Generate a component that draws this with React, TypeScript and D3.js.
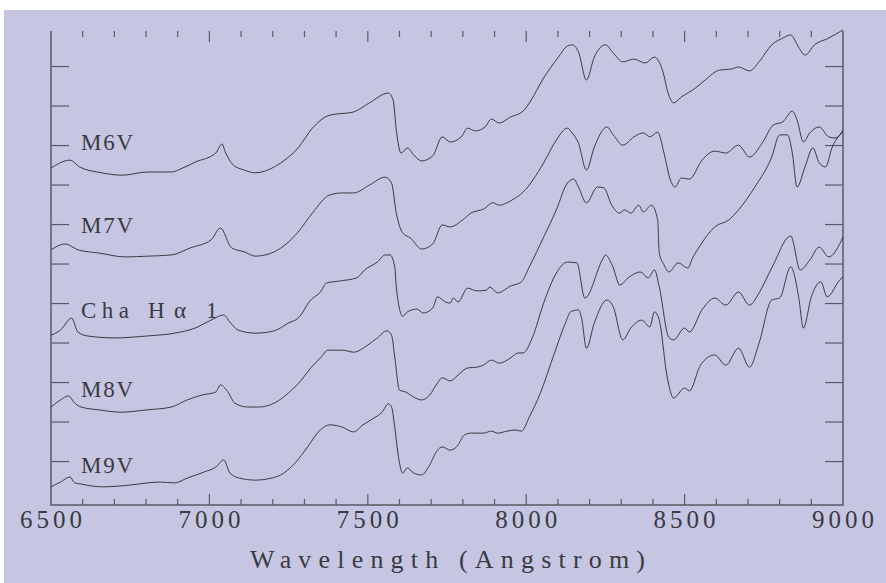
import React, { useEffect, useRef } from 'react';
import * as d3 from 'd3';

// wavelength (Angstrom), offset flux
const M6V = [
  [6500, 8.43], [6560, 8.63], [6590, 8.46], [6660, 8.31], [6725, 8.25], [6805, 8.33],
  [6880, 8.33], [6910, 8.41], [6955, 8.58], [7020, 8.81], [7040, 9.04], [7050, 8.84],
  [7075, 8.51], [7110, 8.38], [7145, 8.31], [7205, 8.46], [7225, 8.56], [7280, 8.94],
  [7325, 9.44], [7380, 9.77], [7455, 9.85], [7505, 10.08], [7565, 10.33], [7580, 10.15],
  [7590, 9.39], [7605, 8.81], [7625, 8.94], [7645, 8.76], [7670, 8.61], [7705, 8.74],
  [7735, 9.22], [7760, 9.09], [7795, 9.22], [7815, 9.44], [7840, 9.37], [7870, 9.47],
  [7890, 9.67], [7915, 9.57], [7950, 9.72], [7990, 9.87], [8010, 10.08], [8055, 10.71],
  [8100, 11.22], [8130, 11.52], [8145, 11.55], [8165, 11.37], [8190, 10.66], [8215, 11.24],
  [8250, 11.55], [8275, 11.34], [8305, 11.12], [8340, 11.19], [8375, 11.09], [8405, 11.24],
  [8430, 10.91], [8450, 10.28], [8465, 10.08], [8490, 10.23], [8535, 10.46], [8565, 10.66],
  [8610, 10.91], [8650, 10.94], [8670, 10.99], [8705, 10.89], [8735, 11.12], [8775, 11.55],
  [8810, 11.72], [8835, 11.8], [8860, 11.49], [8880, 11.29], [8910, 11.55], [8955, 11.72],
  [9000, 11.93],
];

const M7V = [
  [6500, 6.36], [6545, 6.51], [6585, 6.36], [6650, 6.28], [6735, 6.18], [6805, 6.2],
  [6880, 6.23], [6940, 6.41], [7005, 6.61], [7035, 6.91], [7070, 6.41], [7110, 6.31],
  [7145, 6.2], [7205, 6.31], [7280, 6.81], [7325, 7.29], [7380, 7.75], [7420, 7.8],
  [7455, 7.8], [7505, 8.0], [7555, 8.2], [7575, 8.05], [7590, 7.29], [7610, 6.79],
  [7635, 6.66], [7670, 6.38], [7705, 6.51], [7735, 6.99], [7760, 6.94], [7800, 7.12],
  [7825, 7.29], [7865, 7.39], [7895, 7.55], [7915, 7.49], [7955, 7.62], [7990, 7.82],
  [8055, 8.56], [8095, 9.14], [8130, 9.44], [8145, 9.32], [8165, 9.06], [8190, 8.38],
  [8215, 8.96], [8255, 9.47], [8275, 9.27], [8305, 9.01], [8340, 9.22], [8370, 9.32],
  [8390, 9.22], [8415, 9.34], [8435, 8.81], [8455, 8.13], [8470, 7.95], [8490, 8.18],
  [8515, 8.15], [8555, 8.63], [8595, 8.86], [8630, 8.81], [8670, 9.01], [8705, 8.71],
  [8745, 9.06], [8780, 9.52], [8810, 9.6], [8840, 9.87], [8855, 9.65], [8875, 9.09],
  [8895, 9.32], [8925, 9.47], [8955, 9.22], [8975, 9.19], [9000, 9.39],
];

const CHA_HA_1 = [
  [6500, 4.2], [6530, 4.33], [6565, 4.63], [6585, 4.28], [6615, 4.18], [6700, 4.13],
  [6805, 4.18], [6890, 4.25], [6955, 4.38], [7005, 4.58], [7045, 4.71], [7065, 4.53],
  [7090, 4.33], [7145, 4.25], [7205, 4.31], [7250, 4.51], [7280, 4.63], [7320, 5.09],
  [7350, 5.29], [7370, 5.52], [7410, 5.57], [7465, 5.65], [7490, 5.85], [7530, 6.05],
  [7555, 6.23], [7570, 6.23], [7585, 5.93], [7590, 5.42], [7610, 4.68], [7625, 4.79],
  [7655, 4.86], [7675, 4.76], [7705, 4.89], [7720, 5.17], [7745, 5.04], [7760, 5.01],
  [7770, 5.14], [7785, 5.04], [7815, 5.39], [7845, 5.32], [7875, 5.34], [7885, 5.42],
  [7910, 5.27], [7950, 5.44], [7985, 5.55], [8010, 5.93], [8055, 6.68], [8095, 7.37],
  [8130, 8.05], [8150, 8.15], [8165, 7.95], [8190, 7.55], [8225, 7.95], [8245, 7.93],
  [8270, 7.49], [8295, 7.29], [8310, 7.37], [8330, 7.29], [8355, 7.49], [8370, 7.32],
  [8395, 7.49], [8415, 7.12], [8420, 6.28], [8435, 5.98], [8450, 5.8], [8480, 6.03],
  [8510, 5.9], [8525, 6.15], [8550, 6.48], [8595, 6.94], [8640, 7.12], [8670, 7.37],
  [8720, 7.93], [8775, 8.71], [8800, 9.27], [8825, 9.27], [8840, 8.81], [8855, 7.95],
  [8880, 8.46], [8905, 8.94], [8925, 8.56], [8945, 8.46], [8965, 8.94], [9000, 9.34],
];

const M8V = [
  [6500, 2.38], [6530, 2.56], [6555, 2.66], [6575, 2.48], [6595, 2.38], [6650, 2.31],
  [6720, 2.25], [6805, 2.31], [6880, 2.38], [6930, 2.56], [6975, 2.68], [7020, 2.76],
  [7035, 2.94], [7060, 2.74], [7080, 2.48], [7120, 2.38], [7155, 2.38], [7205, 2.48],
  [7250, 2.74], [7290, 3.06], [7320, 3.37], [7350, 3.62], [7375, 3.82], [7420, 3.82],
  [7455, 3.77], [7500, 3.95], [7530, 4.13], [7560, 4.31], [7575, 4.2], [7585, 3.65],
  [7600, 2.81], [7620, 2.76], [7645, 2.63], [7670, 2.56], [7695, 2.68], [7720, 2.99],
  [7735, 3.12], [7760, 3.04], [7785, 3.19], [7815, 3.37], [7845, 3.39], [7865, 3.44],
  [7890, 3.57], [7915, 3.49], [7950, 3.62], [7975, 3.75], [7990, 3.75], [8020, 4.15],
  [8055, 5.01], [8095, 5.77], [8130, 6.05], [8160, 6.03], [8185, 5.14], [8240, 6.1],
  [8250, 6.23], [8275, 5.9], [8295, 5.47], [8325, 5.67], [8360, 5.8], [8385, 5.65],
  [8405, 5.85], [8420, 5.42], [8450, 4.15], [8465, 4.08], [8500, 4.38], [8515, 4.28],
  [8555, 4.84], [8595, 5.14], [8630, 4.96], [8670, 5.29], [8705, 4.96], [8735, 5.27],
  [8775, 5.9], [8835, 6.71], [8865, 5.85], [8895, 6.1], [8925, 6.43], [8955, 6.18],
  [9000, 6.68],
];

const M9V = [
  [6500, 0.36], [6530, 0.48], [6560, 0.61], [6575, 0.46], [6595, 0.43], [6660, 0.36],
  [6755, 0.41], [6805, 0.46], [6845, 0.48], [6890, 0.46], [6930, 0.58], [6985, 0.74],
  [7020, 0.86], [7045, 1.04], [7065, 0.71], [7095, 0.58], [7145, 0.53], [7195, 0.58],
  [7225, 0.66], [7270, 0.96], [7310, 1.37], [7350, 1.8], [7380, 1.93], [7420, 1.87],
  [7455, 1.75], [7485, 1.93], [7515, 2.08], [7545, 2.25], [7565, 2.46], [7575, 2.38],
  [7585, 1.87], [7595, 1.22], [7610, 0.71], [7625, 0.84], [7645, 0.71], [7670, 0.66],
  [7695, 0.91], [7720, 1.29], [7735, 1.37], [7760, 1.29], [7780, 1.37], [7805, 1.67],
  [7825, 1.72], [7865, 1.72], [7890, 1.77], [7910, 1.72], [7940, 1.77], [7965, 1.8],
  [7985, 1.77], [8010, 2.13], [8045, 2.74], [8085, 3.65], [8125, 4.53], [8140, 4.79],
  [8165, 4.84], [8175, 4.63], [8190, 3.87], [8215, 4.51], [8255, 5.09], [8275, 4.91],
  [8305, 4.08], [8330, 4.38], [8365, 4.58], [8390, 4.41], [8405, 4.79], [8420, 4.58],
  [8445, 3.14], [8465, 2.61], [8500, 2.86], [8515, 2.79], [8550, 3.44], [8595, 3.7],
  [8630, 3.44], [8670, 3.87], [8705, 3.39], [8735, 4.0], [8775, 5.09], [8800, 5.14],
  [8835, 5.93], [8860, 5.17], [8875, 4.38], [8900, 5.17], [8930, 5.55], [8950, 5.17],
  [8990, 5.6], [9000, 5.67],
];

const seriesList = [M6V, M7V, CHA_HA_1, M8V, M9V];
// each label is split in words so the wide gaps of "Cha Hα 1" can be kept
const labelWords = [['M6V'], ['M7V'], ['Cha', 'H\u03b1', '1'], ['M8V'], ['M9V']];
const labelFlux = [8.89, 6.79, 4.63, 2.63, 0.71];
const xTickLabels = [6500, 7000, 7500, 8000, 8500, 9000];
const yTickValues = [1, 2, 3, 4, 5, 6, 7, 8, 9, 10, 11];

const App = () => {
  const svgRef = useRef(null);

  useEffect(() => {
    document.body.style.margin = '0';

    const width = 886;
    const height = 583;
    const plot = { left: 51, right: 843, top: 31, bottom: 505 };

    const svg = d3.select(svgRef.current);
    svg.selectAll('*').remove();
    svg.attr('width', width).attr('height', height);

    svg.append('rect').attr('width', width).attr('height', height).attr('fill', '#ffffff');
    svg.append('rect')
      .attr('x', 4).attr('y', 10)
      .attr('width', width - 4).attr('height', height - 10)
      .attr('fill', '#c6c6e2');

    const x = d3.scaleLinear().domain([6500, 9000]).range([plot.left, plot.right]);
    const y = d3.scaleLinear().domain([-0.1, 11.9]).range([plot.bottom, plot.top]);

    const axisColor = '#5a5a66';
    const textColor = '#3a3a42';
    const font = 'Liberation Serif, serif';

    // frame: left, bottom, right (no top line)
    svg.append('path')
      .attr('d', `M${plot.left},${plot.top}V${plot.bottom}H${plot.right}V${plot.top}`)
      .attr('fill', 'none')
      .attr('stroke', axisColor)
      .attr('stroke-width', 1.5);

    // x ticks, bottom and top
    d3.range(6600, 9000, 100).forEach(w => {
      const len = w % 500 === 0 ? 11 : 6;
      svg.append('line')
        .attr('x1', x(w)).attr('x2', x(w))
        .attr('y1', plot.bottom).attr('y2', plot.bottom - len)
        .attr('stroke', axisColor).attr('stroke-width', 1.2);
      svg.append('line')
        .attr('x1', x(w)).attr('x2', x(w))
        .attr('y1', plot.top).attr('y2', plot.top + len)
        .attr('stroke', axisColor).attr('stroke-width', 1.2);
    });

    // y ticks, left and right
    yTickValues.forEach(v => {
      svg.append('line')
        .attr('x1', plot.left).attr('x2', plot.left + 18)
        .attr('y1', y(v)).attr('y2', y(v))
        .attr('stroke', axisColor).attr('stroke-width', 1.2);
      svg.append('line')
        .attr('x1', plot.right - 18).attr('x2', plot.right)
        .attr('y1', y(v)).attr('y2', y(v))
        .attr('stroke', axisColor).attr('stroke-width', 1.2);
    });

    // tick labels
    svg.selectAll('.xlab')
      .data(xTickLabels)
      .enter().append('text')
      .attr('class', 'xlab')
      .attr('x', d => x(d) - 31)
      .attr('y', 528)
      .attr('textLength', 62)
      .attr('lengthAdjust', 'spacing')
      .attr('font-family', font)
      .attr('font-size', 25)
      .attr('fill', textColor)
      .text(d => d);

    svg.append('text')
      .attr('x', 250)
      .attr('y', 568)
      .attr('textLength', 395)
      .attr('lengthAdjust', 'spacing')
      .attr('font-family', font)
      .attr('font-size', 26)
      .attr('fill', textColor)
      .text('Wavelength (Angstrom)');

    // spectra
    const line = d3.line()
      .x(d => x(d[0]))
      .y(d => y(d[1]))
      .curve(d3.curveMonotoneX);

    svg.selectAll('.spec')
      .data(seriesList)
      .enter().append('path')
      .attr('class', 'spec')
      .attr('d', line)
      .attr('fill', 'none')
      .attr('stroke', '#2a2a32')
      .attr('stroke-width', 0.9);

    // labels
    const wordX = [81, 148, 206];
    const wordLen = { 'M6V': 52, 'M7V': 52, 'M8V': 52, 'M9V': 52, 'Cha': 48, 'H\u03b1': 38, '1': 10 };
    labelWords.forEach((words, i) => {
      words.forEach((w, j) => {
        svg.append('text')
          .attr('x', wordX[j])
          .attr('y', y(labelFlux[i]))
          .attr('textLength', wordLen[w])
          .attr('lengthAdjust', 'spacing')
          .attr('font-family', font)
          .attr('font-size', 23)
          .attr('fill', textColor)
          .text(w);
      });
    });
  }, []);

  return (
    <div style={{ position: 'absolute', left: 0, top: 0 }}>
      <svg ref={svgRef}></svg>
    </div>
  );
};

export default App;
